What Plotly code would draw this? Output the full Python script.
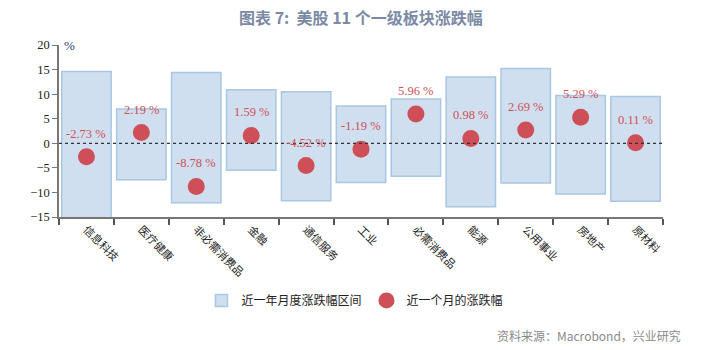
import plotly.graph_objects as go

categories = ["信息科技", "医疗健康", "非必需消费品", "金融", "通信服务", "工业",
              "必需消费品", "能源", "公用事业", "房地产", "原材料"]
range_high = [14.6, 7.0, 14.4, 10.9, 10.5, 7.6, 9.0, 13.5, 15.2, 9.7, 9.5]
range_low = [-16.0, -7.4, -12.1, -5.5, -11.7, -8.0, -6.7, -12.9, -8.1, -10.3, -11.8]
month_chg = [-2.73, 2.19, -8.78, 1.59, -4.52, -1.19, 5.96, 0.98, 2.69, 5.29, 0.11]

CJK = "Noto Sans CJK SC"
SERIF = "Liberation Serif"
RED = "#cf4f58"

fig = go.Figure()
fig.add_trace(go.Bar(
    x=categories,
    y=[h - l for h, l in zip(range_high, range_low)],
    base=range_low,
    name="近一年月度涨跌幅区间",
    marker=dict(color="#cfdfef", line=dict(color="#a9c6e2", width=1.5)),
    width=0.9,
))
fig.add_trace(go.Scatter(
    x=categories, y=month_chg, mode="markers",
    name="近一个月的涨跌幅",
    marker=dict(color=RED, size=17),
))
for c, v in zip(categories, month_chg):
    fig.add_annotation(x=c, y=v, text=f"{v:.2f} %", showarrow=False, yshift=23,
                       font=dict(family=SERIF, size=12.5, color=RED))

fig.add_shape(type="line", xref="paper", x0=0, x1=1, yref="y", y0=0, y1=0,
              line=dict(color="#333333", width=1.2, dash="dot"))

fig.add_annotation(xref="paper", yref="paper", x=0.005, y=1.0, xanchor="left", yanchor="middle",
                   text="%", showarrow=False, font=dict(family=SERIF, size=13, color="#1f3c6e"))
fig.add_annotation(xref="paper", yref="paper", x=0.5, y=1.0, yshift=28,
                   xanchor="center", yanchor="middle",
                   text="<b>图表 7:  美股 11 个一级板块涨跌幅</b>", showarrow=False,
                   font=dict(family=CJK, size=16, color="#7b8aa4"))
fig.add_annotation(xref="paper", yref="paper", x=1.0, y=0, xshift=20, yshift=-118,
                   xanchor="right", yanchor="middle",
                   text="资料来源：Macrobond，兴业研究", showarrow=False,
                   font=dict(family=CJK, size=12, color="#8a8a8a"))

fig.update_layout(
    width=714, height=350,
    margin=dict(l=59, r=51, t=45, b=133),
    plot_bgcolor="white", paper_bgcolor="white",
    showlegend=True,
    legend=dict(orientation="h", x=0.49, xanchor="center", y=-0.485, yanchor="middle",
                font=dict(family=CJK, size=12, color="#222222"), itemwidth=30,
                tracegroupgap=0),
    xaxis=dict(type="category", tickson="boundaries", ticks="outside", ticklen=6,
               tickcolor="#555555", tickwidth=1.5,
               showline=True, linecolor="#777777", linewidth=2,
               tickangle=45, tickfont=dict(family=CJK, size=11, color="#222222"),
               showgrid=False, range=[-0.5, 10.5]),
    yaxis=dict(range=[-15, 20], dtick=5, ticks="outside", ticklen=5,
               tickcolor="#777777", showline=True, linecolor="#777777", linewidth=1.5,
               showgrid=False, zeroline=False,
               tickfont=dict(family=SERIF, size=12.5, color="#222222")),
    bargap=0.1,
)

fig.write_html("out.html")
